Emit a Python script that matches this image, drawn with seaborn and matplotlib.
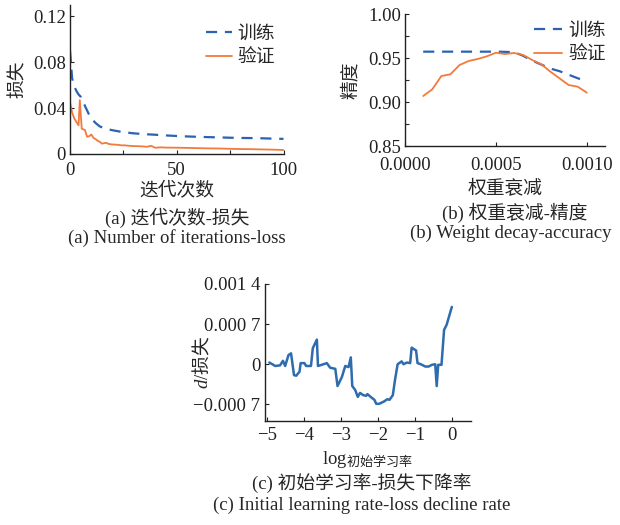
import numpy as np
import pandas as pd
import matplotlib
matplotlib.use("Agg")
import matplotlib.pyplot as plt
import seaborn as sns

# ---------------- data ----------------
# (a) iterations vs loss
a_train_x = [0, 1, 2, 3, 4, 5, 6, 7, 8, 9, 10, 12, 14, 16, 18, 20, 25, 30, 35, 40, 45,
             50, 55, 60, 65, 70, 75, 80, 85, 90, 95, 100]
a_train_y = [0.090, 0.066, 0.059, 0.055, 0.052, 0.050, 0.046, 0.042, 0.038, 0.034, 0.031,
             0.027, 0.024, 0.0225, 0.0215, 0.0207, 0.0190, 0.0180, 0.0173, 0.0168, 0.0162,
             0.0157, 0.0153, 0.0150, 0.0147, 0.0145, 0.0142, 0.0140, 0.0139, 0.0137, 0.0134, 0.0132]
a_val_x = [0, 1, 2, 3, 4, 4.6, 5.5, 7, 8, 9, 10, 11, 12, 13, 14, 15, 16, 17, 18, 19, 20,
           22, 24, 26, 28, 30, 32, 34, 36, 38, 40, 42, 45, 50, 55, 60, 65, 70, 75, 80,
           85, 90, 95, 100]
a_val_y = [0.045, 0.036, 0.031, 0.028, 0.025, 0.047, 0.022, 0.021, 0.015, 0.0155, 0.017,
           0.014, 0.013, 0.0115, 0.0105, 0.0090, 0.0095, 0.0098, 0.0088, 0.0085, 0.0083,
           0.0081, 0.0076, 0.0075, 0.0071, 0.0069, 0.0068, 0.0066, 0.0063, 0.0071, 0.0054,
           0.0058, 0.0056, 0.0055, 0.0053, 0.0051, 0.0049, 0.0048, 0.0045, 0.0043, 0.0042,
           0.0040, 0.0038, 0.0035]

# (b) weight decay vs accuracy
b_x = [0.0001, 0.00015, 0.0002, 0.00025, 0.0003, 0.00035, 0.0004, 0.00045, 0.0005,
       0.00055, 0.0006, 0.00065, 0.0007, 0.00075, 0.0008, 0.00085, 0.0009, 0.00095, 0.001]
b_train = [0.9572, 0.9572, 0.9572, 0.9572, 0.9572, 0.9572, 0.9572, 0.9572, 0.9572,
           0.9570, 0.9566, 0.9525, 0.9470, 0.9425, 0.9380, 0.9350, 0.9310, 0.9270, 0.9235]
b_val = [0.9068, 0.9144, 0.9295, 0.9315, 0.9420, 0.9466, 0.9489, 0.9519, 0.9560,
         0.9545, 0.9557, 0.9534, 0.9477, 0.9428, 0.9344, 0.9269, 0.9193, 0.9174, 0.9106]

# (c) log initial learning rate vs d/loss
c_x = [-4.95, -4.84, -4.79, -4.66, -4.58, -4.52, -4.43, -4.36, -4.28, -4.22, -4.13, -4.10,
       -4.00, -3.95, -3.82, -3.77, -3.66, -3.63, -3.53, -3.39, -3.30, -3.16, -3.10, -2.98,
       -2.89, -2.80, -2.74, -2.70, -2.62, -2.55, -2.49, -2.40, -2.32, -2.29, -2.20, -2.10,
       -2.05, -1.97, -1.84, -1.75, -1.69, -1.60, -1.54, -1.47, -1.36, -1.31, -1.22, -1.13,
       -1.09, -0.97, -0.93, -0.84, -0.72, -0.63, -0.54, -0.45, -0.41, -0.37, -0.28, -0.21,
       -0.14, 0.0]
c_y = [0.00003, -0.00001, -0.00003, -0.00002, 0.00006, -0.00003, 0.00016, 0.00019,
       -0.00019, -0.00020, -0.00013, 0.00002, 0.00002, -0.00003, -0.00003, 0.00028, 0.00043,
       -0.00003, -0.00001, 0.00002, -0.00006, -0.00008, -0.00038, -0.00022, -0.00003,
       -0.00005, 0.00012, -0.00038, -0.00045, -0.00057, -0.00050, -0.00054, -0.00055,
       -0.00052, -0.00057, -0.00062, -0.00069, -0.00069, -0.00065, -0.00061, -0.00062,
       -0.00054, -0.00027, 0.0, 0.00005, 0.0, 0.00003, 0.00002, 0.00029, 0.00024, 0.00002,
       0.0, -0.00004, -0.00004, -0.00001, 0.0, -0.00038, -0.00001, -0.00001, 0.00060,
       0.00069, 0.00100]

c_yticks = [-0.0007, 0.0, 0.0007, 0.0014]
c_yticklabels = ["\u22120.000 7", "0", "0.000 7", "0.001 4"]

# ---------------- style ----------------
sns.set_style("ticks")
plt.rcParams["font.family"] = ["Liberation Serif", "Noto Sans CJK SC"]
plt.rcParams["mathtext.fontset"] = "custom"
plt.rcParams["mathtext.rm"] = "Liberation Serif"
plt.rcParams["mathtext.it"] = "Liberation Serif:italic"
plt.rcParams["mathtext.sf"] = "Noto Sans CJK SC"
plt.rcParams["axes.unicode_minus"] = True
plt.rcParams["xtick.direction"] = "in"
plt.rcParams["ytick.direction"] = "in"

BLUE = "#2b62b2"
ORANGE = "#f27a3c"
CBLUE = "#2e6cae"
TICK = 13.5
LAB = 13.5
CAP = 13.5

fig = plt.figure(figsize=(6.2, 5.25), dpi=100)

def px_axes(l, r, t, b):
    W, H = 620.0, 525.0
    return fig.add_axes([l / W, 1 - b / H, (r - l) / W, (b - t) / H])

def style(ax, xpad=3):
    sns.despine(ax=ax)
    for s in ("left", "bottom"):
        ax.spines[s].set_color("#222222")
        ax.spines[s].set_linewidth(1.0)
    ax.tick_params(labelsize=TICK, length=3, width=0.8, pad=3, colors="#222222")
    ax.tick_params(axis="x", pad=xpad)

# (a)
axa = px_axes(70, 283.5, 5, 154)
dfa_t = pd.DataFrame({"x": a_train_x, "y": a_train_y})
dfa_v = pd.DataFrame({"x": a_val_x, "y": a_val_y})
sns.lineplot(data=dfa_t, x="x", y="y", ax=axa, color=BLUE, lw=1.6, label="训练")
axa.lines[-1].set_dashes((5, 3.5))
sns.lineplot(data=dfa_v, x="x", y="y", ax=axa, color=ORANGE, lw=1.3, label="验证")
axa.set_xlim(0, 100)
axa.set_ylim(0, 0.13)
axa.set_xticks([0, 25, 50, 75, 100])
axa.set_xticklabels(["0", "", "50", "", "100"])
axa.set_yticks([0, 0.04, 0.08, 0.12])
axa.set_yticklabels(["0", "0.04", "0.08", "0.12"])
axa.set_xlabel("迭代次数", fontsize=LAB, labelpad=2)
axa.set_ylabel("损失", fontsize=LAB, labelpad=4)
style(axa, xpad=6)
axa.legend(frameon=False, fontsize=LAB, loc="upper right", bbox_to_anchor=(0.995, 0.91),
           handlelength=1.4, handletextpad=0.3, labelspacing=0.35, borderaxespad=0)

# (b)
axb = px_axes(405, 605, 14, 146)
dfb = pd.DataFrame({"x": b_x, "train": b_train, "val": b_val})
sns.lineplot(data=dfb, x="x", y="train", ax=axb, color=BLUE, lw=1.6, label="训练")
axb.lines[-1].set_dashes((5, 3.5))
sns.lineplot(data=dfb, x="x", y="val", ax=axb, color=ORANGE, lw=1.3, label="验证")
axb.set_xlim(0, 0.0011)
axb.set_ylim(0.85, 1.00)
axb.set_xticks([0, 0.0005, 0.001])
axb.set_xticklabels(["0.0000", "0.0005", "0.0010"])
axb.set_yticks([0.85, 0.90, 0.95, 1.00])
axb.set_yticklabels(["0.85", "0.90", "0.95", "1.00"])
axb.set_yticks([0.875, 0.925, 0.975], minor=True)
axb.set_xlabel("权重衰减", fontsize=LAB, labelpad=4)
axb.set_ylabel("精度", fontsize=LAB, labelpad=6)
style(axb, xpad=8)
axb.tick_params(axis="y", which="minor", length=3, width=0.8, direction="in")
axb.legend(frameon=False, fontsize=LAB, loc="upper right", bbox_to_anchor=(1.04, 0.99),
           handlelength=1.5, handletextpad=0.3, labelspacing=0.35, borderaxespad=0)

# (c)
axc = px_axes(264.5, 471, 284, 421)
dfc = pd.DataFrame({"x": c_x, "y": c_y})
sns.lineplot(data=dfc, x="x", y="y", ax=axc, color=CBLUE, lw=1.8)
axc.set_xlim(-5.08, 0.52)
axc.set_ylim(-0.00099, 0.0014)
axc.set_xticks([-5, -4, -3, -2, -1, 0])
axc.set_xticklabels(["\u22125", "\u22124", "\u22123", "\u22122", "\u22121", "0"])
axc.set_yticks(c_yticks)
axc.set_yticklabels(c_yticklabels)
axc.set_xlabel(r"$\mathrm{log}_{\mathsf{初始学习率}}$", fontsize=LAB, labelpad=4)
axc.set_ylabel(r"$d/\mathsf{损失}$", fontsize=LAB)
axc.yaxis.set_label_coords(-0.25, 0.43)
style(axc, xpad=4)

# captions
fig.text(177 / 620, 1 - 218 / 525, "(a) 迭代次数-损失", ha="center", va="center", fontsize=CAP)
fig.text(177 / 620, 1 - 238 / 525, "(a) Number of iterations-loss", ha="center", va="center", fontsize=CAP)
fig.text(515 / 620, 1 - 213 / 525, "(b) 权重衰减-精度", ha="center", va="center", fontsize=CAP)
fig.text(511 / 620, 1 - 233 / 525, "(b) Weight decay-accuracy", ha="center", va="center", fontsize=CAP)
fig.text(362 / 620, 1 - 483 / 525, "(c) 初始学习率-损失下降率", ha="center", va="center", fontsize=CAP)
fig.text(362 / 620, 1 - 505 / 525, "(c) Initial learning rate-loss decline rate", ha="center", va="center", fontsize=CAP)

fig.savefig("out.png", dpi=100)
